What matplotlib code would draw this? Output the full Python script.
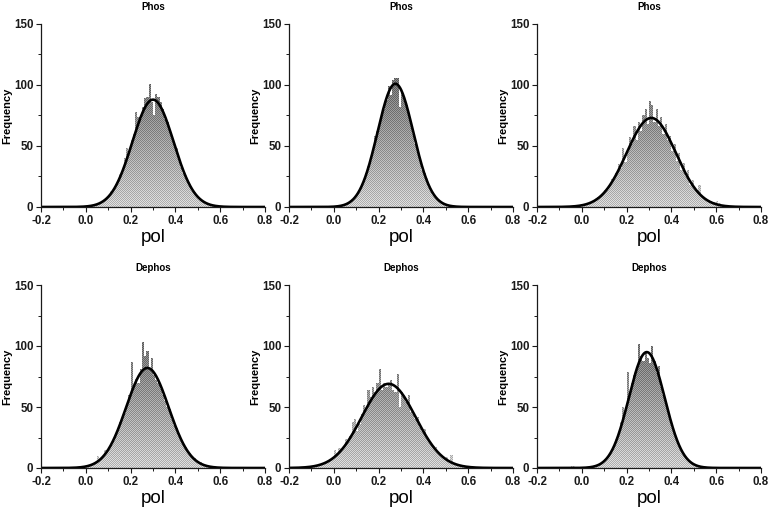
import numpy as np
import matplotlib
matplotlib.use('Agg')
import matplotlib.pyplot as plt
from matplotlib.path import Path
from matplotlib.patches import PathPatch
from matplotlib.ticker import MultipleLocator, FixedLocator

# ---------------- data ----------------
titles = ['Phos', 'Phos', 'Phos', 'Dephos', 'Dephos', 'Dephos']
x_label = 'pol'
y_label = 'Frequency'
x_ticks = [-0.2, 0.0, 0.2, 0.4, 0.6, 0.8]
y_ticks = [0, 50, 100, 150]
bin_width = 0.01
first_bin_center = [0.005, 0.005, -0.095, -0.095, -0.155, -0.045]

counts_phos_1 = [1, 1, 1, 2, 2, 3, 4, 5, 6, 8, 9, 13, 15, 19, 22, 27, 31, 40, 48, 46,
                 55, 60, 78, 74, 72, 82, 89, 90, 101, 86, 75, 93, 90, 86, 80, 72, 70, 62, 56, 52,
                 48, 41, 33, 28, 26, 20, 18, 13, 12, 8, 6, 5, 4, 3, 3, 2, 1, 1, 0, 0]
counts_phos_2 = [0, 1, 1, 1, 2, 2, 3, 5, 6, 8, 11, 14, 17, 22, 28, 34, 38, 45, 58, 62,
                 68, 75, 80, 88, 99, 92, 104, 106, 106, 82, 95, 90, 84, 76, 70, 60, 52, 47, 40, 30,
                 28, 24, 16, 13, 10, 8, 6, 4, 3, 2, 1, 1, 1]
counts_phos_3 = [0, 0, 1, 0, 0, 1, 0, 1, 1, 1, 2, 2, 2, 3, 4, 5, 7, 8, 9, 11,
                 14, 14, 19, 23, 22, 28, 35, 32, 48, 37, 45, 57, 52, 66, 55, 70, 62, 75, 80, 68,
                 87, 84, 70, 80, 66, 74, 60, 68, 55, 58, 46, 52, 38, 44, 30, 36, 25, 30, 18, 22,
                 14, 13, 18, 9, 8, 6, 5, 5, 3, 4, 5, 3, 2, 1, 1, 1, 0, 1, 0, 0]
counts_dephos_1 = [0, 0, 1, 0, 0, 1, 1, 0, 1, 1, 2, 2, 3, 4, 5, 10, 7, 8, 15, 14,
                   16, 19, 22, 28, 32, 38, 43, 45, 52, 60, 87, 66, 73, 70, 81, 103, 92, 96, 80, 90,
                   76, 72, 70, 65, 60, 55, 50, 48, 40, 35, 33, 28, 22, 20, 17, 14, 12, 9, 8, 6,
                   5, 5, 3, 2, 1, 1, 1, 0, 1, 0, 0, 0, 0, 0, 0]
counts_dephos_2 = [0, 1, 1, 0, 1, 1, 2, 1, 2, 2, 3, 3, 4, 5, 7, 8, 15, 12, 16, 14,
                   18, 24, 22, 26, 38, 40, 30, 36, 44, 52, 48, 64, 58, 66, 62, 70, 81, 64, 70, 66,
                   68, 72, 64, 62, 77, 50, 62, 58, 54, 60, 46, 44, 40, 42, 34, 30, 32, 24, 22, 20,
                   18, 17, 12, 11, 10, 8, 9, 5, 11, 4, 3, 3, 2, 1, 2, 1, 1, 0, 1, 0, 0]
counts_dephos_3 = [2, 2, 0, 0, 1, 0, 1, 0, 1, 1, 1, 2, 3, 4, 5, 7, 9, 11, 15, 18,
                   24, 28, 38, 50, 47, 79, 62, 70, 76, 80, 102, 92, 88, 95, 90, 86, 100, 88, 78, 84,
                   66, 60, 55, 47, 40, 33, 29, 22, 18, 14, 11, 9, 6, 5, 4, 3, 2, 1, 1, 1, 0, 1]
all_counts = [counts_phos_1, counts_phos_2, counts_phos_3,
              counts_dephos_1, counts_dephos_2, counts_dephos_3]

# Gaussian fit parameters
fit_amplitude = [88, 101, 73, 82, 69, 95]
fit_center = [0.300, 0.275, 0.310, 0.275, 0.245, 0.290]
fit_sigma = [0.092, 0.080, 0.110, 0.095, 0.120, 0.080]

# ---------------- style ----------------
plt.rcParams['font.family'] = ['Liberation Sans', 'DejaVu Sans']
W, H = 778, 508
fig = plt.figure(figsize=(W / 100, H / 100), dpi=100)

col_left = [41, 289, 537]
row_top = [24, 285]
ax_w, ax_h = 224, 183

def make_texture(nrow, ncol):
    yy = np.linspace(150, 0, nrow)[:, None] * np.ones((1, ncol))
    base = 0.78 - 0.0034 * yy
    ii, jj = np.indices((nrow, ncol))
    checker = np.where((ii + jj) % 2 == 0, 0.11, -0.09)
    img = np.clip(base + checker, 0, 1)
    return img

for k in range(6):
    r, c = divmod(k, 3)
    left = col_left[c] / W
    bottom = 1 - (row_top[r] + ax_h) / H
    ax = fig.add_axes([left, bottom, ax_w / W, ax_h / H])
    counts = np.array(all_counts[k], dtype=float)
    centers = first_bin_center[k] + bin_width * np.arange(len(counts))
    bars = ax.bar(centers, counts, width=bin_width, color='#9a9a9a', linewidth=0, zorder=1)

    # gradient + dotted texture clipped to the bars
    paths = [b.get_path().transformed(b.get_patch_transform()) for b in bars if b.get_height() > 0]
    comp = Path.make_compound_path(*paths)
    clip = PathPatch(comp, transform=ax.transData, facecolor='none', edgecolor='none')
    ax.add_patch(clip)
    im = ax.imshow(make_texture(ax_h, ax_w), cmap='gray', vmin=0, vmax=1,
                   extent=[-0.2, 0.8, 0, 150], aspect='auto', interpolation='none', zorder=2)
    im.set_clip_path(clip)

    xs = np.linspace(-0.2, 0.8, 600)
    ys = fit_amplitude[k] * np.exp(-(xs - fit_center[k]) ** 2 / (2 * fit_sigma[k] ** 2))
    ax.plot(xs, ys, color='black', lw=1.9, zorder=3, solid_capstyle='round')

    ax.set_xlim(-0.2, 0.8)
    ax.set_ylim(0, 150)
    ax.xaxis.set_major_locator(FixedLocator(x_ticks))
    ax.xaxis.set_minor_locator(MultipleLocator(0.1))
    ax.yaxis.set_major_locator(FixedLocator(y_ticks))
    ax.yaxis.set_minor_locator(MultipleLocator(25))
    ax.set_xticklabels(['%.1f' % v for v in x_ticks])
    for s in ['top', 'right']:
        ax.spines[s].set_visible(False)
    for s in ['left', 'bottom']:
        ax.spines[s].set_linewidth(0.9)
        ax.spines[s].set_color('#1a1a1a')
        ax.spines[s].set_zorder(4)
    ax.tick_params(which='major', direction='out', length=3.5, width=0.8, pad=2,
                   labelsize=8.3, colors='#1a1a1a')
    ax.tick_params(which='minor', direction='out', length=2, width=0.7, colors='#1a1a1a')
    for lab in ax.get_xticklabels() + ax.get_yticklabels():
        lab.set_fontweight('bold')
    ax.set_xlabel(x_label, fontsize=13.5, labelpad=2)
    ax.set_ylabel(y_label, fontsize=8, fontweight='bold', labelpad=1)
    ax.text(0.5, 1 + 17 / ax_h, titles[k], transform=ax.transAxes, ha='center', va='center',
            fontsize=7, fontweight='bold')
    ax.patch.set_visible(False)

fig.savefig('out.png', dpi=100)
